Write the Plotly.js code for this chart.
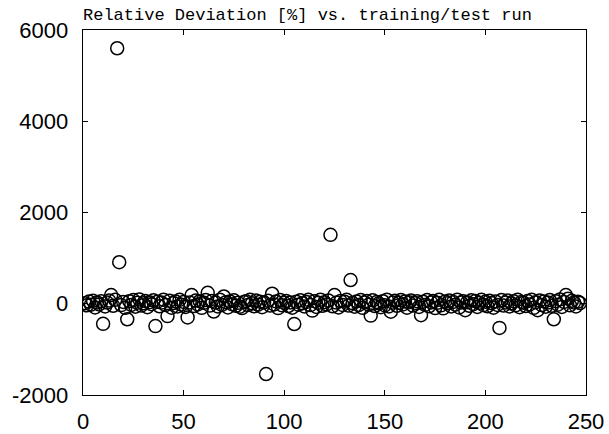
<!DOCTYPE html>
<html>
<head>
<meta charset="utf-8">
<script src="https://cdn.plot.ly/plotly-3.0.1.min.js"></script>
<style>html,body{margin:0;padding:0;background:#fff;}#chart{width:609px;height:434px;}</style>
</head>
<body>
<div id="chart"></div>
<script>
// Run index (x) and relative deviation [%] (y)
const runs = [];
for (let i = 1; i <= 247; i++) runs.push(i);
const deviation = [
  12, -35, 48, -20, 65, -80, 30, -15, 55, -440,
  -60, 25, 70, 190, -45, 85, 5600, 910, -30, 40,
  -90, -340, 55, -25, 80, -65, 20, 95, -40, 10,
  60, -75, 35, -10, 75, -490, 45, -55, 25, 90,
  -30, -270, 65, -85, 15, 50, -60, 85, -20, 40,
  -70, -300, 30, 190, -50, 70, -15, 55, -90, 20,
  80, 240, -40, 60, -170, 25, -60, 90, -25, 160,
  35, -80, 50, -10, 75, -45, 20, -65, -95, 40,
  55, -30, 85, 10, -55, 70, -20, 45, -75, 30,
  -1540, 65, -40, 220, -15, 50, -95, 80, -35, 20,
  60, -50, 30, -85, -445, 45, -20, 75, 10, -60,
  40, 85, -30, -150, 55, -70, 20, 90, -45, 35,
  -15, 70, 1510, -55, 190, 25, -80, 60, -25, 45,
  85, -40, 520, 15, -65, 50, -30, 80, -90, 30,
  60, -20, -260, 75, -50, 40, 10, -75, 55, -35,
  90, -60, -175, 25, 65, -45, 20, 80, -15, 50,
  -85, 35, 70, -40, 15, 55, -70, -250, 45, -25,
  80, -55, 30, 60, -95, 20, 85, -35, -100, 50,
  10, 70, -60, 40, -20, 90, -80, 25, 55, -140,
  35, -45, 75, -10, 60, -70, 20, 85, -30, 45,
  -55, 65, 15, -85, 50, -25, -530, 80, -40, 30,
  70, -60, 10, 55, -35, 90, -75, 40, 20, -50,
  60, -15, 85, -90, 35, -140, 70, -30, 50, -65,
  25, 80, -45, -340, 55, -20, 95, -70, 40, 190,
  110, -35, 65, 30, -60, 45, 15
];
const xTickVals = [0, 50, 100, 150, 200, 250];
const xTickText = ["0", "50", "100", "150", "200", "250"];
const yTickVals = [-2000, 0, 2000, 4000, 6000];
const yTickText = ["-2000", "0", "2000", "4000", "6000"];
const titleText = "Relative Deviation [%] vs. training/test run";

const tickFont = {family: "Liberation Sans, Arial, sans-serif", size: 22, color: "#000"};

Plotly.newPlot("chart", [{
  x: runs,
  y: deviation,
  type: "scatter",
  mode: "markers",
  marker: {symbol: "circle-open", size: 13, color: "#000", line: {width: 1.5, color: "#000"}},
  hoverinfo: "x+y"
}], {
  width: 609,
  height: 434,
  paper_bgcolor: "#fff",
  plot_bgcolor: "#fff",
  showlegend: false,
  margin: {l: 83, r: 23, t: 30, b: 39, pad: 0},
  title: {
    text: titleText,
    font: {family: "Liberation Mono, Courier New, monospace", size: 17, color: "#000"},
    x: 0, xanchor: "left", xref: "paper",
    y: 0.967, yanchor: "middle", yref: "container"
  },
  xaxis: {
    range: [0, 250],
    tickvals: xTickVals,
    ticktext: xTickText,
    ticks: "inside",
    ticklen: 5,
    tickcolor: "#000",
    showline: true,
    linecolor: "#000",
    linewidth: 1.3,
    mirror: "ticks",
    showgrid: false,
    zeroline: false,
    tickfont: tickFont,
    ticklabelstandoff: 6
  },
  yaxis: {
    range: [-2000, 6000],
    tickvals: yTickVals,
    ticktext: yTickText,
    ticks: "inside",
    ticklen: 5,
    tickcolor: "#000",
    showline: true,
    linecolor: "#000",
    linewidth: 1.3,
    mirror: "ticks",
    showgrid: false,
    zeroline: false,
    tickfont: tickFont,
    ticklabelstandoff: 9
  }
}, {displayModeBar: false, staticPlot: true});
</script>
</body>
</html>
